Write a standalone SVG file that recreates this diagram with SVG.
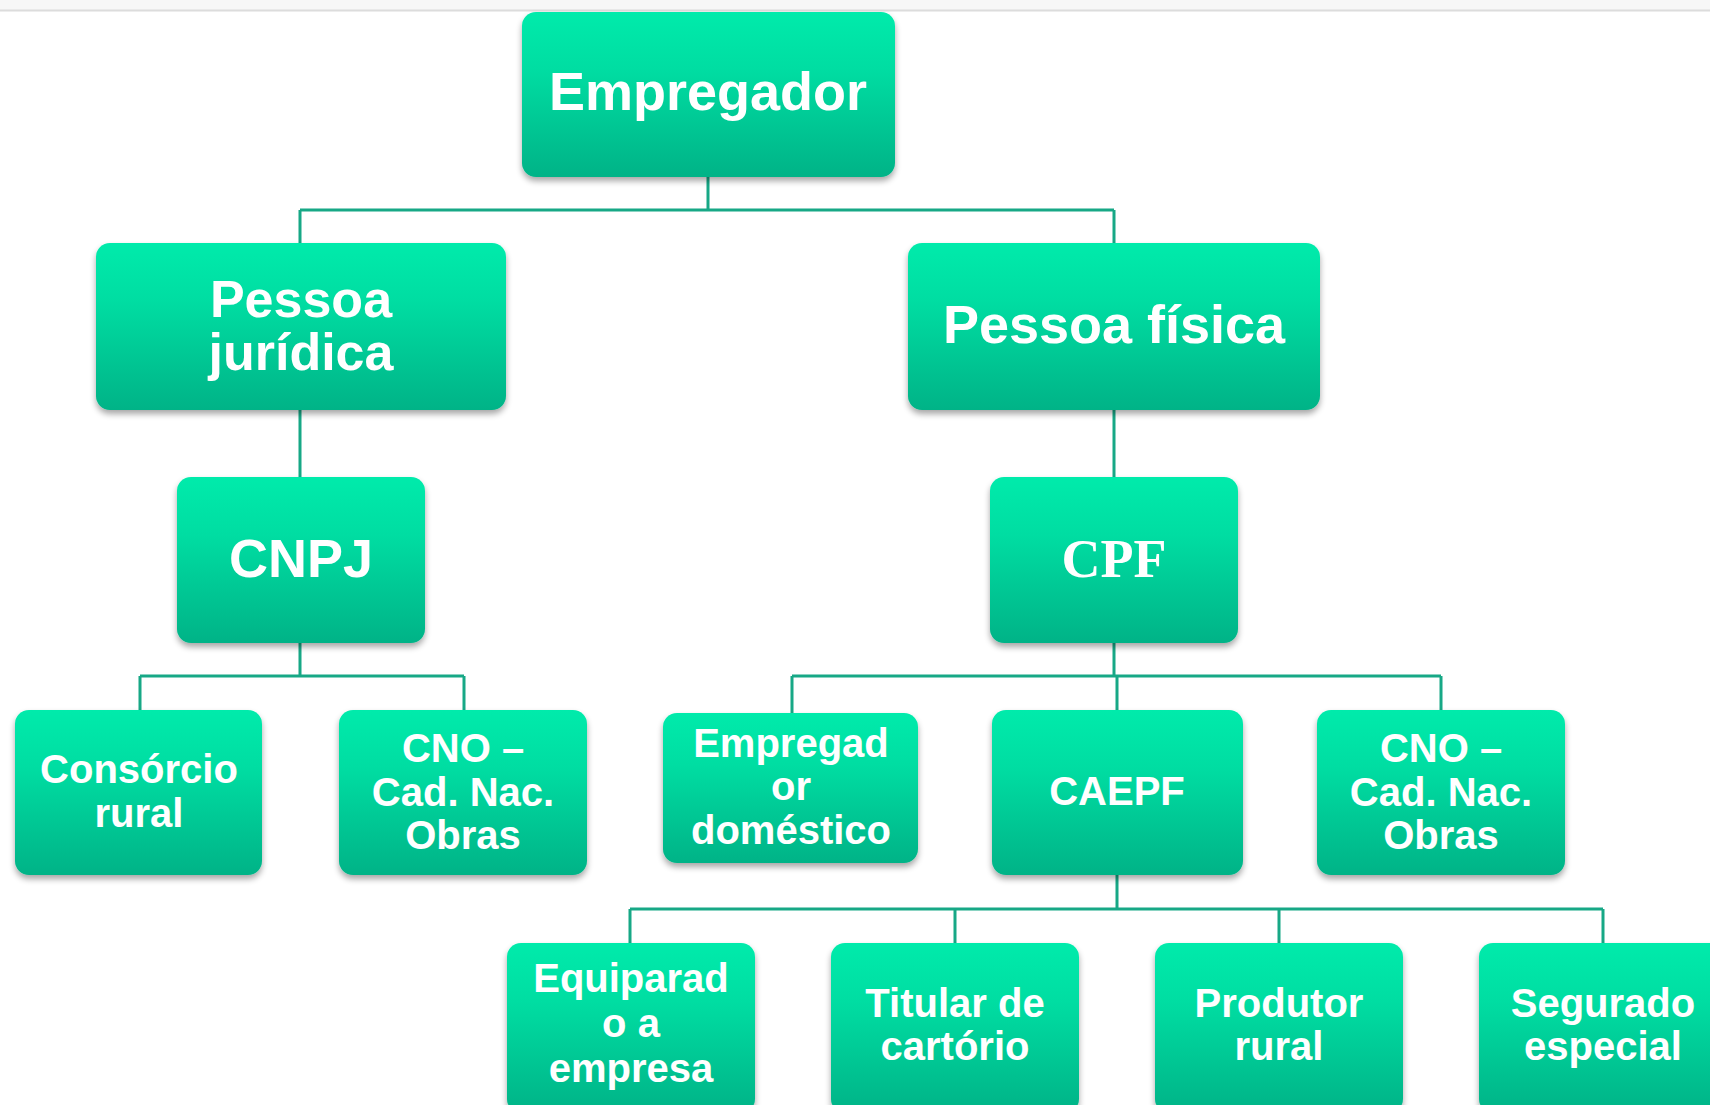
<svg xmlns="http://www.w3.org/2000/svg" width="1710" height="1105" viewBox="0 0 1710 1105">
<style>
.box{fill:url(#g);filter:url(#sh)}
.t{font-family:"Liberation Sans",Arial,sans-serif;font-weight:bold;fill:#ffffff;text-anchor:middle}
.big{font-size:54px}
.sm{font-size:40px}
.serif{font-family:"Liberation Serif","Times New Roman",serif;font-weight:bold;font-size:54px;fill:#ffffff;text-anchor:middle}
.c{stroke:#17A886;stroke-width:3;fill:none}
</style>
<defs>
<linearGradient id="g" x1="0" y1="0" x2="0" y2="1">
<stop offset="0" stop-color="#00EBAB"/>
<stop offset="0.35" stop-color="#00DDA2"/>
<stop offset="1" stop-color="#00B387"/>
</linearGradient>
<filter id="sh" x="-10%" y="-10%" width="120%" height="130%">
<feGaussianBlur in="SourceAlpha" stdDeviation="3"/>
<feOffset dx="0" dy="4" result="b"/>
<feComponentTransfer><feFuncA type="linear" slope="0.35"/></feComponentTransfer>
<feMerge><feMergeNode/><feMergeNode in="SourceGraphic"/></feMerge>
</filter>
</defs>
<rect x="0" y="0" width="1710" height="1105" fill="#ffffff"/>
<rect x="0" y="0" width="1710" height="10" fill="#f7f7f7"/>
<line x1="0" y1="10.5" x2="1710" y2="10.5" stroke="#dcdcdc" stroke-width="2"/>
<g id="connectors">
<path class="c" d="M708 177V210M300 210H1114M300 210V243M1114 210V243"/>
<path class="c" d="M300 410V477M1114 410V477"/>
<path class="c" d="M300 643V676M140 676H464M140 676V710M464 676V710"/>
<path class="c" d="M1114 643V676M792 676H1441M792 676V713M1117 676V710M1441 676V710"/>
<path class="c" d="M1117 875V909M630 909H1603M630 909V943M955 909V943M1279 909V943M1603 909V943"/>
</g>
<g id="empregador"><rect class="box" x="522" y="12" width="373" height="165" rx="14"/><text class="t big" x="708" y="110" font-size="56">Empregador</text></g>
<g id="pessoa-juridica"><rect class="box" x="96" y="243" width="410" height="167" rx="14"/><text class="t" x="301" y="317" font-size="52">Pessoa</text><text class="t" x="301" y="370" font-size="52">jurídica</text></g>
<g id="pessoa-fisica"><rect class="box" x="908" y="243" width="412" height="167" rx="14"/><text class="t big" x="1114" y="343">Pessoa física</text></g>
<g id="cnpj"><rect class="box" x="177" y="477" width="248" height="166" rx="14"/><text class="t big" x="301" y="577" font-size="52">CNPJ</text></g>
<g id="cpf"><rect class="box" x="990" y="477" width="248" height="166" rx="14"/><text class="serif" x="1114" y="577">CPF</text></g>
<g id="consorcio"><rect class="box" x="15" y="710" width="247" height="165" rx="14"/><text class="t sm" x="139" y="783">Consórcio</text><text class="t sm" x="139" y="827">rural</text></g>
<g id="cno-pj"><rect class="box" x="339" y="710" width="248" height="165" rx="14"/><text class="t sm" x="463" y="762">CNO –</text><text class="t sm" x="463" y="806">Cad. Nac.</text><text class="t sm" x="463" y="849">Obras</text></g>
<g id="empregador-domestico"><rect class="box" x="663" y="713" width="255" height="150" rx="14"/><text class="t sm" x="791" y="757">Empregad</text><text class="t sm" x="791" y="800">or</text><text class="t sm" x="791" y="844">doméstico</text></g>
<g id="caepf"><rect class="box" x="992" y="710" width="251" height="165" rx="14"/><text class="t sm" x="1117" y="805">CAEPF</text></g>
<g id="cno-pf"><rect class="box" x="1317" y="710" width="248" height="165" rx="14"/><text class="t sm" x="1441" y="762">CNO –</text><text class="t sm" x="1441" y="806">Cad. Nac.</text><text class="t sm" x="1441" y="849">Obras</text></g>
<g id="equiparado"><rect class="box" x="507" y="943" width="248" height="170" rx="14"/><text class="t sm" x="631" y="992">Equiparad</text><text class="t sm" x="631" y="1037">o a</text><text class="t sm" x="631" y="1082">empresa</text></g>
<g id="titular"><rect class="box" x="831" y="943" width="248" height="170" rx="14"/><text class="t sm" x="955" y="1017">Titular de</text><text class="t sm" x="955" y="1060">cartório</text></g>
<g id="produtor"><rect class="box" x="1155" y="943" width="248" height="170" rx="14"/><text class="t sm" x="1279" y="1017">Produtor</text><text class="t sm" x="1279" y="1060">rural</text></g>
<g id="segurado"><rect class="box" x="1479" y="943" width="248" height="170" rx="14"/><text class="t sm" x="1603" y="1017">Segurado</text><text class="t sm" x="1603" y="1060">especial</text></g>
</svg>
